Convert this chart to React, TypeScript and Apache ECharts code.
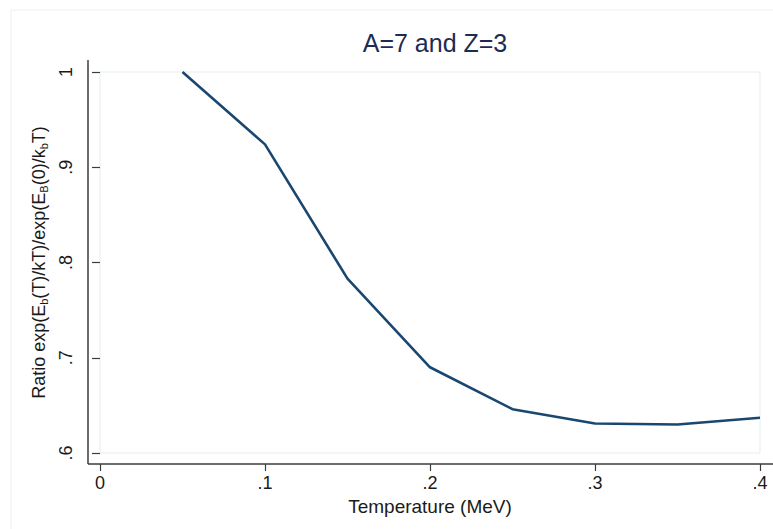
import React, { useEffect, useRef } from "react";
import * as echarts from "echarts";

const temperature = [0.05, 0.1, 0.15, 0.2, 0.25, 0.3, 0.35, 0.4];
const ratio = [1.0, 0.924, 0.783, 0.69, 0.646, 0.631, 0.63, 0.637];
const xTicks = [0, 0.1, 0.2, 0.3, 0.4];
const yTicks = [0.6, 0.7, 0.8, 0.9, 1];

const FONT = "'Liberation Sans', Arial, sans-serif";

function fmt(v: number) {
  const r = Number(v.toFixed(1));
  if (r === 0) return "0";
  if (r === 1) return "1";
  return String(r).replace(/^0\./, ".");
}

export default function App() {
  const ref = useRef<HTMLDivElement>(null);
  useEffect(() => {
    if (!ref.current) return;
    const chart = echarts.init(ref.current, undefined, { renderer: "svg" });
    const data = temperature.map((t, i) => [t, ratio[i]]);
    chart.setOption({
      animation: false,
      backgroundColor: "#ffffff",
      textStyle: { fontFamily: FONT },
      title: {
        text: "A=7 and Z=3",
        left: 430,
        top: 25,
        textAlign: "center",
        textStyle: { fontFamily: FONT, fontSize: 25, fontWeight: "normal", color: "#1e2b52" },
      },
      graphic: [
        {
          type: "rect",
          shape: { x: 11, y: 10, width: 800, height: 560 },
          style: { fill: "none", stroke: "#eceff2", lineWidth: 1 },
          silent: true,
          z: 0,
        },
        {
          type: "line",
          shape: { x1: 88, y1: 60, x2: 88, y2: 464 },
          style: { stroke: "#3c3c3c", lineWidth: 1.5 },
          z: 10,
        },
        {
          type: "line",
          shape: { x1: 88, y1: 464, x2: 773, y2: 464 },
          style: { stroke: "#3c3c3c", lineWidth: 1.5 },
          z: 10,
        },
      ],
      grid: {
        left: 100,
        right: 13,
        top: 72,
        bottom: 76,
        show: true,
        borderColor: "#e4edf1",
        borderWidth: 1,
        backgroundColor: "#ffffff",
      },
      xAxis: {
        type: "value",
        min: 0,
        max: 0.4,
        interval: 0.1,
        offset: 11,
        splitLine: { show: false },
        axisLine: { show: false },
        axisTick: { show: true, length: 7, lineStyle: { color: "#3c3c3c", width: 1.2 } },
        axisLabel: {
          margin: 10,
          fontSize: 18,
          color: "#1a1a1a",
          fontFamily: FONT,
          customValues: xTicks,
          formatter: (v: number) => fmt(v),
        },
        name: "Temperature (MeV)",
        nameLocation: "middle",
        nameGap: 28,
        nameTextStyle: { fontSize: 19, color: "#1a1a1a", fontFamily: FONT },
      },
      yAxis: {
        type: "value",
        min: 0.6,
        max: 1,
        interval: 0.1,
        offset: 12,
        splitLine: { show: false },
        axisLine: { show: false },
        axisTick: { show: true, length: 8, lineStyle: { color: "#3c3c3c", width: 1.2 } },
        axisLabel: {
          margin: 13,
          rotate: 90,
          fontSize: 18,
          color: "#1a1a1a",
          fontFamily: FONT,
          customValues: yTicks,
          formatter: (v: number) => fmt(v),
        },
        name:
          "Ratio exp(E{sub|b}(T)/kT)/exp(E{sub|B}(0)/k{sub|b}T)",
        nameLocation: "middle",
        nameRotate: 90,
        nameGap: 37,
        nameTextStyle: {
          fontSize: 18,
          color: "#1a1a1a",
          fontFamily: FONT,
          lineHeight: 21,
          rich: {
            sub: { fontSize: 11, lineHeight: 21, verticalAlign: "bottom", color: "#1a1a1a", fontFamily: FONT },
          },
        },
      },
      series: [
        {
          type: "line",
          data,
          showSymbol: false,
          symbol: "none",
          lineStyle: { color: "#1a476f", width: 2.6 },
          z: 5,
        },
      ],
    });
    return () => chart.dispose();
  }, []);
  return (
    <div
      ref={ref}
      style={{ position: "fixed", left: 0, top: 0, width: 773, height: 529 }}
    />
  );
}
